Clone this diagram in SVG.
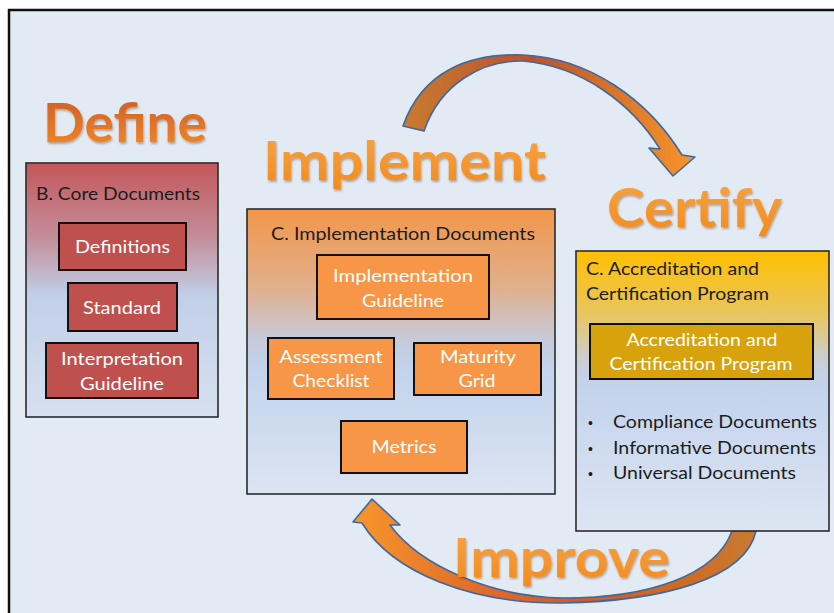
<svg xmlns="http://www.w3.org/2000/svg" width="834" height="613" viewBox="0 0 834 613">
<style>
.big{font-family:Lato,"Open Sans","Liberation Sans",sans-serif;font-weight:bold;font-size:53px}
.t{font-family:Lato,"Open Sans","Liberation Sans",sans-serif;font-size:17px;fill:#1c1c1c}
.b{font-family:"Liberation Sans",sans-serif;font-size:14px;fill:#1c1c1c}
.w{font-family:Lato,"Open Sans","Liberation Sans",sans-serif;font-size:17px;fill:#ffffff;text-anchor:middle}
.box{stroke:#2b2b2b;stroke-width:1.6}
.red{fill:#c0504d;stroke:#111;stroke-width:2}
.org{fill:#f79646;stroke:#111;stroke-width:2}
.gld{fill:#d8a20c;stroke:#111;stroke-width:2}
.arr{stroke:#41689a;stroke-width:1.6;stroke-linejoin:round}
</style>
<defs>
<linearGradient id="gRed" x1="0" y1="0" x2="0" y2="1">
<stop offset="0" stop-color="#c3575a"/><stop offset="0.3" stop-color="#c38f9c"/><stop offset="0.52" stop-color="#c1cfe7"/><stop offset="1" stop-color="#d6e0f0"/>
</linearGradient>
<linearGradient id="gOrg" x1="0" y1="0" x2="0" y2="1">
<stop offset="0" stop-color="#f2964a"/><stop offset="0.28" stop-color="#e0b08e"/><stop offset="0.46" stop-color="#c6cadb"/><stop offset="0.56" stop-color="#c2d3ec"/><stop offset="1" stop-color="#dbe4f2"/>
</linearGradient>
<linearGradient id="gGld" x1="0" y1="0" x2="0" y2="1">
<stop offset="0" stop-color="#ffc000"/><stop offset="0.22" stop-color="#e9c55c"/><stop offset="0.4" stop-color="#c9cfda"/><stop offset="0.48" stop-color="#c3d3ec"/><stop offset="1" stop-color="#dde5f2"/>
</linearGradient>
<linearGradient id="gDef" x1="0" y1="0" x2="0" y2="1">
<stop offset="0" stop-color="#c85a2a"/><stop offset="1" stop-color="#f78a22"/>
</linearGradient>
<linearGradient id="gWord" x1="0" y1="0" x2="0" y2="1">
<stop offset="0" stop-color="#f7a545"/><stop offset="1" stop-color="#f38a1c"/>
</linearGradient>
<linearGradient id="gTop" gradientUnits="userSpaceOnUse" x1="400" y1="0" x2="695" y2="0">
<stop offset="0" stop-color="#c97c2e"/><stop offset="0.45" stop-color="#b9532f"/><stop offset="1" stop-color="#f8952a"/>
</linearGradient>
<linearGradient id="gBot" gradientUnits="userSpaceOnUse" x1="355" y1="0" x2="756" y2="0">
<stop offset="0" stop-color="#f8952a"/><stop offset="0.3" stop-color="#e06e2a"/><stop offset="0.55" stop-color="#cc5a32"/><stop offset="0.8" stop-color="#cf6a22"/><stop offset="1" stop-color="#c87a32"/>
</linearGradient>
<filter id="sh" x="-10%" y="-10%" width="120%" height="130%">
<feDropShadow dx="1" dy="2" stdDeviation="1.2" flood-color="#7a4a20" flood-opacity="0.45"/>
</filter>
</defs>

<rect x="9" y="10" width="840" height="620" fill="#e2eaf4" stroke="#111" stroke-width="2.5"/>

<g id="connectors">
<path class="arr" fill="url(#gTop)" d="M403,126 C422,72 468,53 523,55 C590,58 648,100 682,155 L695,157 L673,176 L649,148 L660,149 C632,104 582,66 523,61 C482,60 440,84 424,131 Z"/>
<path class="arr" fill="url(#gBot)" d="M756,531 C745,580 660,601 563,603 C470,604 392,572 362,523 L353,522 L372,499 L400,525 L390,525 C420,566 492,597 563,598 C650,598 716,575 732,531 Z"/>
</g>

<g id="label-define"><text class="big" x="43" y="142" fill="url(#gDef)" filter="url(#sh)" textLength="164" lengthAdjust="spacingAndGlyphs">Define</text></g>
<g id="label-implement"><text class="big" x="263" y="180" fill="url(#gWord)" filter="url(#sh)" textLength="283" lengthAdjust="spacingAndGlyphs">Implement</text></g>
<g id="label-certify"><text class="big" x="607" y="227" fill="url(#gWord)" filter="url(#sh)" textLength="175" lengthAdjust="spacingAndGlyphs">Certify</text></g>
<g id="label-improve"><text class="big" x="453" y="577" fill="url(#gWord)" filter="url(#sh)" textLength="217" lengthAdjust="spacingAndGlyphs">Improve</text></g>

<g id="core-documents">
<rect class="box" x="26" y="163" width="192" height="254" fill="url(#gRed)"/>
<text class="t" x="36" y="200" textLength="164" lengthAdjust="spacingAndGlyphs">B. Core Documents</text>
</g>
<g id="definitions">
<rect class="red" x="59" y="223" width="127" height="47"/>
<text class="w" x="122.5" y="253" textLength="95" lengthAdjust="spacingAndGlyphs">Definitions</text>
</g>
<g id="standard">
<rect class="red" x="68" y="283" width="109" height="48"/>
<text class="w" x="122" y="314" textLength="78" lengthAdjust="spacingAndGlyphs">Standard</text>
</g>
<g id="interpretation-guideline">
<rect class="red" x="46" y="343" width="152" height="55"/>
<text class="w" x="122" y="365" textLength="122" lengthAdjust="spacingAndGlyphs">Interpretation</text>
<text class="w" x="122" y="390" textLength="84" lengthAdjust="spacingAndGlyphs">Guideline</text>
</g>

<g id="implementation-documents">
<rect class="box" x="247" y="209" width="308" height="285" fill="url(#gOrg)"/>
<text class="t" x="271" y="240" textLength="264" lengthAdjust="spacingAndGlyphs">C. Implementation Documents</text>
</g>
<g id="implementation-guideline">
<rect class="org" x="317" y="255" width="172" height="64"/>
<text class="w" x="403" y="282" textLength="140" lengthAdjust="spacingAndGlyphs">Implementation</text>
<text class="w" x="403" y="307" textLength="82" lengthAdjust="spacingAndGlyphs">Guideline</text>
</g>
<g id="assessment-checklist">
<rect class="org" x="268" y="338" width="126" height="61"/>
<text class="w" x="331" y="363" textLength="103" lengthAdjust="spacingAndGlyphs">Assessment</text>
<text class="w" x="331" y="387" textLength="77" lengthAdjust="spacingAndGlyphs">Checklist</text>
</g>
<g id="maturity-grid">
<rect class="org" x="414" y="343" width="127" height="52"/>
<text class="w" x="478" y="363" textLength="76" lengthAdjust="spacingAndGlyphs">Maturity</text>
<text class="w" x="477" y="387" textLength="37" lengthAdjust="spacingAndGlyphs">Grid</text>
</g>
<g id="metrics">
<rect class="org" x="341" y="421" width="126" height="52"/>
<text class="w" x="404" y="453" textLength="65" lengthAdjust="spacingAndGlyphs">Metrics</text>
</g>

<g id="accreditation-certification">
<rect class="box" x="576" y="251" width="253" height="280" fill="url(#gGld)"/>
<text class="t" x="586" y="275" textLength="173" lengthAdjust="spacingAndGlyphs">C. Accreditation and</text>
<text class="t" x="586" y="300" textLength="183" lengthAdjust="spacingAndGlyphs">Certification Program</text>
<text class="b" x="588" y="428">•</text>
<text class="t" x="613" y="428" textLength="204" lengthAdjust="spacingAndGlyphs">Compliance Documents</text>
<text class="b" x="588" y="454">•</text>
<text class="t" x="613" y="454" textLength="203" lengthAdjust="spacingAndGlyphs">Informative Documents</text>
<text class="b" x="588" y="479">•</text>
<text class="t" x="613" y="479" textLength="183" lengthAdjust="spacingAndGlyphs">Universal Documents</text>
</g>
<g id="accreditation-program">
<rect class="gld" x="590" y="324" width="223" height="55"/>
<text class="w" x="702" y="346" textLength="151" lengthAdjust="spacingAndGlyphs">Accreditation and</text>
<text class="w" x="701" y="370" textLength="183" lengthAdjust="spacingAndGlyphs">Certification Program</text>
</g>
</svg>
